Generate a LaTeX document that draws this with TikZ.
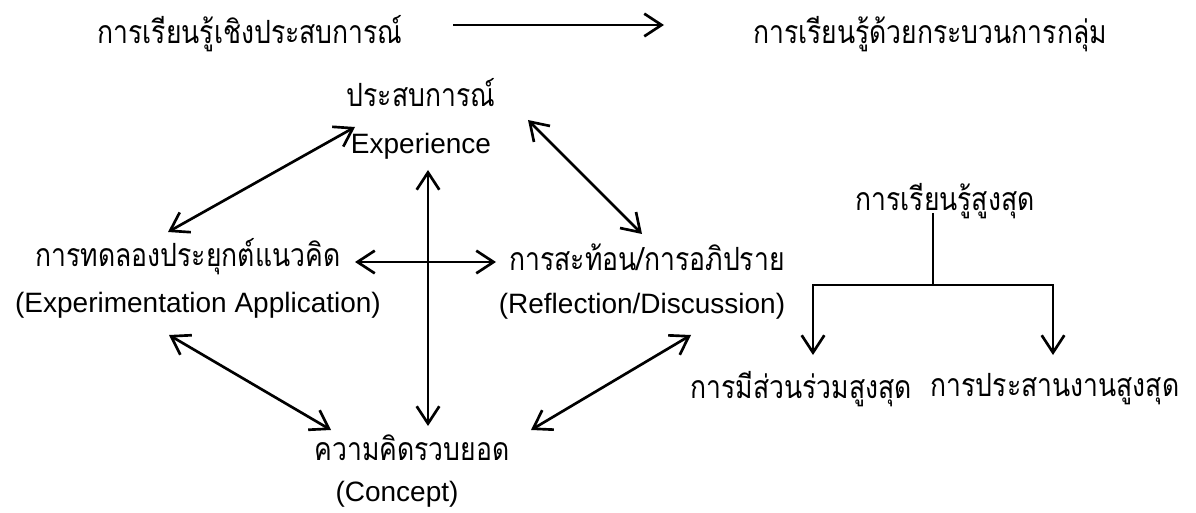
\documentclass[tikz,border=0pt]{standalone}
\usepackage{fontspec}
\setmainfont{Liberation Sans}
\newfontfamily\thaifont[Script=Thai,FakeStretch=0.83]{Loma}
\usetikzlibrary{arrows.meta}
\tikzset{
  th/.style={font=\thaifont\fontsize{24pt}{26pt}\selectfont, inner sep=0pt, anchor=center},
  en/.style={font=\fontsize{21pt}{23pt}\selectfont, inner sep=0pt, anchor=center},
  ln/.style={line width=2pt},
  one/.style={ln, -{Straight Barb[length=13pt,width=17pt,line width=2pt]}},
  two/.style={ln, {Straight Barb[length=13pt,width=17pt,line width=2pt]}-{Straight Barb[length=13pt,width=17pt,line width=2pt]}},
}
\begin{document}
\begin{tikzpicture}[x=0.75pt,y=-0.75pt]
\useasboundingbox[fill=white] (0,0) rectangle (1196,513);
% top row
\node[th] (exl) at (250,34) {การเรียนรู้เชิงประสบการณ์};
\node[th] (grp) at (930,34) {การเรียนรู้ด้วยกระบวนการกลุ่ม};
\coordinate (ta) at (453,25);
\coordinate (tb) at (664,25);
\draw[one] (ta) -- (tb);
% cycle
\node[th] (expth) at (421,93) {ประสบการณ์};
\node[en] (expen) at (421,146) {Experience};
\node[th] (appth) at (188,257) {การทดลองประยุกต์แนวคิด};
\node[en] (appen) at (198,305) {(Experimentation Application)};
\node[th] (refth) at (647,257) {การสะท้อน/การอภิปราย};
\node[en] (refen) at (642,306) {(Reflection/Discussion)};
\node[th] (conth) at (412,448) {ความคิดรวบยอด};
\node[en] (conen) at (397,494) {(Concept)};
\coordinate (v1) at (428,170);
\coordinate (v2) at (428,426);
\coordinate (h1) at (355,262);
\coordinate (h2) at (496,262);
\coordinate (d1a) at (168,232);
\coordinate (d1b) at (355,127);
\coordinate (d2a) at (528,120);
\coordinate (d2b) at (642,234);
\coordinate (d3a) at (169,335);
\coordinate (d3b) at (331,430);
\coordinate (d4a) at (531,430);
\coordinate (d4b) at (691,335);
\draw[two] (v1) -- (v2);
\draw[two] (h1) -- (h2);
\draw[two] (d1a) -- (d1b);
\draw[two] (d2a) -- (d2b);
\draw[two] (d3a) -- (d3b);
\draw[two] (d4a) -- (d4b);
% tree
\node[th] (top) at (945,201) {การเรียนรู้สูงสุด};
\node[th] (par) at (801,389) {การมีส่วนร่วมสูงสุด};
\node[th] (coo) at (1055,389) {การประสานงานสูงสุด};
\coordinate (s) at (933,213);
\coordinate (j) at (933,285);
\coordinate (jl) at (813,285);
\coordinate (jr) at (1053,285);
\coordinate (al) at (813,355);
\coordinate (ar) at (1053,355);
\draw[ln] (s) -- (j);
\draw[one] (j) -- (jl) -- (al);
\draw[one] (j) -- (jr) -- (ar);
\end{tikzpicture}
\end{document}
